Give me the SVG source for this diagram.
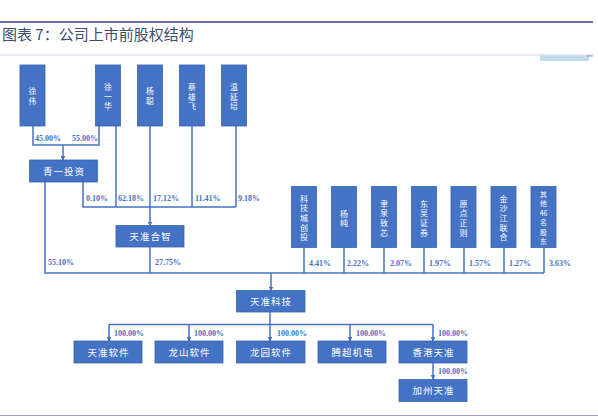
<svg xmlns="http://www.w3.org/2000/svg" width="598" height="420" viewBox="0 0 598 420">
<style>
.box{fill:#4472C4;stroke:#3A64B0;stroke-width:0.8}
.nt{font-family:"Noto Sans CJK SC","Liberation Serif",serif;font-size:7.8px;fill:#ffffff;text-anchor:middle}
.nr{font-family:"Noto Sans CJK SC","Liberation Serif",serif;font-size:8px;fill:#ffffff;text-anchor:middle}
.ns{font-family:"Noto Sans CJK SC","Liberation Serif",serif;font-size:6.9px;fill:#ffffff;text-anchor:middle}
.ht{font-family:"Noto Sans CJK SC","Liberation Serif",serif;font-size:9.5px;fill:#ffffff;text-anchor:middle;letter-spacing:1px}
.pct{font-family:"Liberation Serif",serif;font-size:8px;font-weight:bold;fill:#4472C4}
.ln{fill:none;stroke:#4472C4;stroke-width:1.5}
.ar{fill:none;stroke:#4472C4;stroke-width:1.5;marker-end:url(#ah)}
</style>
<defs>
<marker id="ah" viewBox="0 0 6 6" refX="5" refY="3" markerWidth="3.2" markerHeight="3.2" orient="auto" markerUnits="strokeWidth">
<path d="M0,0 L6,3 L0,6 Z" fill="#4472C4"/>
</marker>
</defs>
<rect width="598" height="420" fill="#ffffff"/>
<g id="header">
<line x1="0" y1="22" x2="593" y2="22" stroke="#6E70A2" stroke-width="2"/>
<text x="2" y="40" font-family="Noto Sans CJK SC,sans-serif" font-size="15" fill="#3B4E72">图表 7：公司上市前股权结构</text>
<line x1="0" y1="55" x2="593" y2="55" stroke="#D3CFE0" stroke-width="1"/>
<rect x="540" y="55.5" width="49" height="5.5" fill="#C1DDEC"/>
<line x1="587" y1="56" x2="593" y2="56" stroke="#8A8CB0" stroke-width="1"/>
<line x1="0" y1="415.5" x2="598" y2="415.5" stroke="#9C9CCB" stroke-width="1"/>
</g>
<g id="connectors">
<polyline class="ln" points="33,126 33,145 99,145 99,126"/>
<line class="ar" x1="63" y1="145" x2="63" y2="160"/>
<line class="ln" x1="116" y1="126" x2="116" y2="207"/>
<line class="ln" x1="192" y1="126" x2="192" y2="207"/>
<line class="ln" x1="236" y1="126" x2="236" y2="207"/>
<polyline class="ln" points="83,182 83,207 236,207"/>
<line class="ln" x1="150" y1="126" x2="150" y2="207"/>
<line class="ar" x1="150" y1="207" x2="150" y2="225.5"/>
<polyline class="ln" points="45,182 45,273 544,273"/>
<line class="ln" x1="150" y1="247" x2="150" y2="273"/>
<line class="ln" x1="304" y1="248" x2="304" y2="273"/>
<line class="ln" x1="344" y1="248" x2="344" y2="273"/>
<line class="ln" x1="384" y1="248" x2="384" y2="273"/>
<line class="ln" x1="424" y1="248" x2="424" y2="273"/>
<line class="ln" x1="464" y1="248" x2="464" y2="273"/>
<line class="ln" x1="504" y1="248" x2="504" y2="273"/>
<line class="ln" x1="544" y1="248" x2="544" y2="273"/>
<line class="ar" x1="271" y1="273" x2="271" y2="290.5"/>
<line class="ln" x1="270" y1="312" x2="270" y2="324.5"/>
<line class="ln" x1="109" y1="324.5" x2="433" y2="324.5"/>
<line class="ar" x1="109" y1="324.5" x2="109" y2="341"/>
<line class="ar" x1="189" y1="324.5" x2="189" y2="341"/>
<line class="ar" x1="270" y1="324.5" x2="270" y2="341"/>
<line class="ar" x1="350" y1="324.5" x2="350" y2="341"/>
<line class="ar" x1="433" y1="324.5" x2="433" y2="341"/>
<line class="ar" x1="433" y1="363" x2="433" y2="379"/>
<text class="pct" x="35" y="140.5">45.00%</text>
<text class="pct" x="72" y="140.5">55.00%</text>
<text class="pct" x="86" y="201">0.10%</text>
<text class="pct" x="118" y="201">62.18%</text>
<text class="pct" x="153" y="201">17.12%</text>
<text class="pct" x="195" y="201">11.41%</text>
<text class="pct" x="238" y="201">9.18%</text>
<text class="pct" x="48" y="265">55.10%</text>
<text class="pct" x="155" y="265">27.75%</text>
<text class="pct" x="309" y="265.5">4.41%</text>
<text class="pct" x="347" y="265.5">2.22%</text>
<text class="pct" x="390" y="265.5">2.07%</text>
<text class="pct" x="429" y="265.5">1.97%</text>
<text class="pct" x="469" y="265.5">1.57%</text>
<text class="pct" x="509" y="265.5">1.27%</text>
<text class="pct" x="549" y="265.5">3.63%</text>
<text class="pct" x="114" y="336">100.00%</text>
<text class="pct" x="194" y="336">100.00%</text>
<text class="pct" x="277" y="336">100.00%</text>
<text class="pct" x="356" y="336">100.00%</text>
<text class="pct" x="438" y="336">100.00%</text>
<text class="pct" x="438" y="373.5">100.00%</text>
</g>
<g id="n-xuwei"><rect class="box" x="20" y="65" width="25" height="61"/><text class="nt" x="32.5" y="94"><tspan x="32.5">徐</tspan><tspan x="32.5" dy="10">伟</tspan></text></g>
<g id="n-xuyihua"><rect class="box" x="95.5" y="65" width="25" height="61"/><text class="nt" x="108" y="90"><tspan x="108">徐</tspan><tspan x="108" dy="9.5">一</tspan><tspan x="108" dy="9.5">华</tspan></text></g>
<g id="n-yangcong"><rect class="box" x="137.5" y="65" width="25" height="61"/><text class="nt" x="150" y="94"><tspan x="150">杨</tspan><tspan x="150" dy="10">聪</tspan></text></g>
<g id="n-caixiongfei"><rect class="box" x="179.5" y="65" width="25" height="61"/><text class="nt" x="192" y="90"><tspan x="192">蔡</tspan><tspan x="192" dy="9.5">雄</tspan><tspan x="192" dy="9.5">飞</tspan></text></g>
<g id="n-wenyanpei"><rect class="box" x="221.5" y="65" width="25" height="61"/><text class="nt" x="234" y="90"><tspan x="234">温</tspan><tspan x="234" dy="9.5">延</tspan><tspan x="234" dy="9.5">培</tspan></text></g>
<g id="n-qingyi"><rect class="box" x="29.5" y="160" width="68" height="22"/><text class="ht" x="64" y="174.5">青一投资</text></g>
<g id="n-tianzhunhezhi"><rect class="box" x="116" y="225.5" width="68" height="21.5"/><text class="ht" x="150.5" y="239.5">天准合智</text></g>
<g id="n-kjc"><rect class="box" x="291.5" y="186.5" width="25" height="61"/><text class="nr" x="304" y="201.5"><tspan x="304">科</tspan><tspan x="304" dy="9.7">技</tspan><tspan x="304" dy="9.7">城</tspan><tspan x="304" dy="9.7">创</tspan><tspan x="304" dy="9.7">投</tspan></text></g>
<g id="n-yangchun"><rect class="box" x="331.5" y="186.5" width="25" height="61"/><text class="nr" x="344" y="216.5"><tspan x="344">杨</tspan><tspan x="344" dy="9.7">纯</tspan></text></g>
<g id="n-yuquan"><rect class="box" x="371.5" y="186.5" width="25" height="61"/><text class="nr" x="384" y="206.5"><tspan x="384">聿</tspan><tspan x="384" dy="9.7">泉</tspan><tspan x="384" dy="9.7">致</tspan><tspan x="384" dy="9.7">芯</tspan></text></g>
<g id="n-dongwu"><rect class="box" x="411.5" y="186.5" width="25" height="61"/><text class="nr" x="424" y="206.5"><tspan x="424">东</tspan><tspan x="424" dy="9.7">吴</tspan><tspan x="424" dy="9.7">证</tspan><tspan x="424" dy="9.7">券</tspan></text></g>
<g id="n-yuandian"><rect class="box" x="451" y="186.5" width="25" height="61"/><text class="nr" x="463.5" y="206.5"><tspan x="463.5">原</tspan><tspan x="463.5" dy="9.7">点</tspan><tspan x="463.5" dy="9.7">正</tspan><tspan x="463.5" dy="9.7">则</tspan></text></g>
<g id="n-jinshajiang"><rect class="box" x="491" y="186.5" width="25" height="61"/><text class="nr" x="503.5" y="201.5"><tspan x="503.5">金</tspan><tspan x="503.5" dy="9.7">沙</tspan><tspan x="503.5" dy="9.7">江</tspan><tspan x="503.5" dy="9.7">联</tspan><tspan x="503.5" dy="9.7">合</tspan></text></g>
<g id="n-others"><rect class="box" x="531" y="186.5" width="25" height="61"/><text class="ns" x="543.5" y="197"><tspan x="543.5">其</tspan><tspan x="543.5" dy="9.4">他</tspan><tspan x="543.5" dy="9.4">46</tspan><tspan x="543.5" dy="9.4">名</tspan><tspan x="543.5" dy="9.4">股</tspan><tspan x="543.5" dy="9.4">东</tspan></text></g>
<g id="n-tianzhunkeji"><rect class="box" x="236.5" y="290.5" width="68.5" height="21.5"/><text class="ht" x="271" y="304.5">天准科技</text></g>
<g id="n-tzrj"><rect class="box" x="74" y="341" width="68" height="22"/><text class="ht" x="108.5" y="355.5">天准软件</text></g>
<g id="n-lsrj"><rect class="box" x="155" y="341" width="68" height="22"/><text class="ht" x="189.5" y="355.5">龙山软件</text></g>
<g id="n-lyrj"><rect class="box" x="236.5" y="341" width="68.5" height="22"/><text class="ht" x="271" y="355.5">龙园软件</text></g>
<g id="n-tcjd"><rect class="box" x="318" y="341" width="68" height="22"/><text class="ht" x="352.5" y="355.5">腾超机电</text></g>
<g id="n-xgtz"><rect class="box" x="399" y="341" width="68" height="22"/><text class="ht" x="433.5" y="355.5">香港天准</text></g>
<g id="n-jztz"><rect class="box" x="399" y="379.5" width="68" height="22"/><text class="ht" x="433.5" y="394">加州天准</text></g>
</svg>
